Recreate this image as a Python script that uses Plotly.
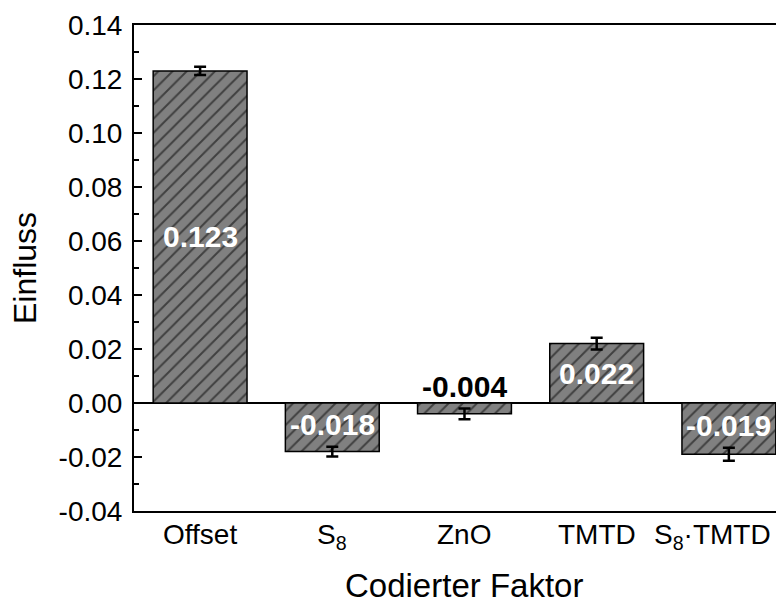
import plotly.graph_objects as go

categories = ["Offset", "S<sub>8</sub>", "ZnO", "TMTD", "S<sub>8</sub>·TMTD"]
values = [0.123, -0.018, -0.004, 0.022, -0.019]
errors = [0.0015, 0.0018, 0.0020, 0.0022, 0.0024]
value_labels = ["0.123", "-0.018", "-0.004", "0.022", "-0.019"]
ytick_vals = [-0.04, -0.02, 0.00, 0.02, 0.04, 0.06, 0.08, 0.10, 0.12, 0.14]
ytick_text = ["-0.04", "-0.02", "0.00", "0.02", "0.04", "0.06", "0.08", "0.10", "0.12", "0.14"]

FONT = "Liberation Sans, Arial, sans-serif"

fig = go.Figure()
fig.add_trace(go.Bar(
    x=list(range(len(categories))),
    y=values,
    width=0.71,
    marker=dict(
        color="#808080",
        line=dict(color="black", width=1.5),
        pattern=dict(shape="/", fgcolor="black", bgcolor="#808080", size=10, solidity=0.2),
    ),
    error_y=dict(type="data", array=errors, color="black", thickness=2.5, width=6),
    showlegend=False,
))

annotations = []
for i, (v, lab) in enumerate(zip(values, value_labels)):
    if abs(v) > 0.01:
        annotations.append(dict(
            x=i, y=v / 2, xref="x", yref="y", text=f"<b>{lab}</b>", showarrow=False,
            font=dict(family=FONT, size=30, color="white"), xanchor="center", yanchor="middle",
            yshift=3 if v < 0 else 0,
        ))
    else:
        annotations.append(dict(
            x=i, y=0, xref="x", yref="y", text=f"<b>{lab}</b>", showarrow=False,
            font=dict(family=FONT, size=30, color="black"), xanchor="center", yanchor="bottom",
            yshift=-2,
        ))

# category labels below the axis (the last one sits slightly left of its bar, as in the reference)
for i, cat in enumerate(categories):
    last = i == len(categories) - 1
    annotations.append(dict(
        x=i, y=0, xref="x", yref="paper", text=cat, showarrow=False,
        font=dict(family=FONT, size=28, color="black"),
        xanchor="right" if last else "center", yanchor="top",
        xshift=44 if last else 0, yshift=-6,
    ))

annotations.append(dict(
    x=2, y=0, xref="x", yref="paper", text="Codierter Faktor", showarrow=False,
    font=dict(family=FONT, size=33, color="black"), xanchor="center", yanchor="middle", yshift=-74,
))
annotations.append(dict(
    x=0, y=0.5, xref="paper", yref="paper", text="Einfluss", showarrow=False, textangle=-90,
    font=dict(family=FONT, size=32, color="black"), xanchor="center", yanchor="middle", xshift=-109,
))

fig.update_layout(
    width=776, height=590,
    margin=dict(l=126, r=0, t=17, b=87, pad=0, autoexpand=False),
    plot_bgcolor="white", paper_bgcolor="white",
    font=dict(family=FONT, size=28, color="black"),
    annotations=annotations,
    xaxis=dict(
        range=[-0.5, 4.417], automargin=False,
        tickmode="array", tickvals=list(range(len(categories))), showticklabels=False,
        showline=True, linecolor="black", linewidth=2, mirror=True,
        ticks="", showgrid=False, zeroline=False,
    ),
    yaxis=dict(
        range=[-0.04, 0.14], automargin=False,
        tickmode="array", tickvals=ytick_vals, ticktext=ytick_text,
        showline=True, linecolor="black", linewidth=2, mirror=False,
        ticks="inside", ticklen=8, tickwidth=2, tickcolor="black",
        minor=dict(ticks="inside", ticklen=5, tickwidth=2, tickcolor="black", dtick=0.01, tick0=0, showgrid=False),
        showgrid=False, ticklabelstandoff=4,
        zeroline=True, zerolinecolor="black", zerolinewidth=1.5,
        tickfont=dict(family=FONT, size=28, color="black"),
    ),
    bargap=0.29,
)

fig.write_html("out.html")
